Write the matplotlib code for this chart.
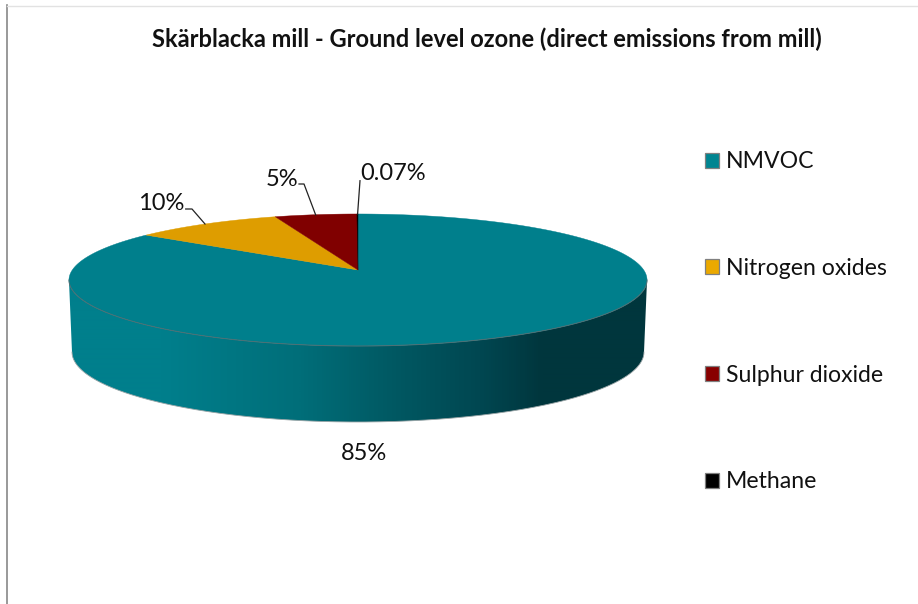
import numpy as np
import matplotlib
matplotlib.use("Agg")
import matplotlib.pyplot as plt
from matplotlib.colors import LinearSegmentedColormap
from matplotlib.patches import Polygon, Rectangle

title = "Skärblacka mill - Ground level ozone (direct emissions from mill)"
categories = ["NMVOC", "Nitrogen oxides", "Sulphur dioxide", "Methane"]
values = [85.03, 9.6, 5.3, 0.07]
value_labels = ["85%", "10%", "5%", "0.07%"]
colors = ["#007F8C", "#DE9D00", "#800000", "#000000"]
legend_colors = ["#008591", "#EBA900", "#880000", "#000000"]

W, H = 918, 604
plt.rcParams["font.family"] = ["Lato", "DejaVu Sans"]
fig = plt.figure(figsize=(W / 100, H / 100), dpi=100, facecolor="white")
ax = fig.add_axes([0, 0, 1, 1])
ax.set_xlim(0, W)
ax.set_ylim(H, 0)
ax.axis("off")

CX, CY, P, A, B = 358.0, 270.0, 0.1515, 285.7, 64.5


def project(theta):
    """Perspective projection of the unit-circle angle (clockwise from 12 o'clock)."""
    u, v = np.sin(theta), np.cos(theta)
    d = 1 + P * v
    return CX + A * u / d, CY - B * v / d


# Side wall, drawn as a horizontal gradient clipped to the wall outline
th0 = np.arccos(-P)
t = np.linspace(th0, 2 * np.pi - th0, 300)
top_x, top_y = project(t)
phi = np.linspace(np.pi / 2, 3 * np.pi / 2, 300)
bx = 358 + 286 * np.sin(phi)
by = 352 - 70 * np.cos(phi)
wall = np.column_stack([np.r_[top_x, bx[::-1]], np.r_[top_y, by[::-1]]])
cmap = LinearSegmentedColormap.from_list(
    "wall",
    [(0.0, "#007F8C"), (0.16, "#007F8C"), (0.40, "#006E79"), (0.55, "#005A64"),
     (0.72, "#004650"), (0.82, "#00363D"), (1.0, "#00363D")],
)
img = ax.imshow(np.linspace(0, 1, 578)[None, :], extent=(69, 647, 425, 270),
                cmap=cmap, aspect="auto", zorder=1, interpolation="bilinear")
clip = Polygon(wall, closed=True, transform=ax.transData, fc="none", ec="none")
ax.add_patch(clip)
img.set_clip_path(clip)
ax.plot(bx, by, color="#9AA5A7", lw=0.6, zorder=1.5)
ax.set_xlim(0, W)
ax.set_ylim(H, 0)

# Pie top, clockwise from 12 o'clock, NMVOC first
fractions = np.array(values) / np.sum(values)
edges = np.r_[0, np.cumsum(fractions)] * 2 * np.pi
for i, c in enumerate(colors):
    th = np.linspace(edges[i], edges[i + 1], max(3, int(720 * fractions[i])))
    x, y = project(th)
    ax.fill(np.r_[CX, x], np.r_[CY, y], fc=c, ec=c, lw=0.3, zorder=2)
x, y = project(t)
ax.plot(x, y, color="#4F6F73", lw=0.7, zorder=3)

# Value labels and leader lines
label_pos = [(364, 453), (161, 203), (282, 179), (393, 174)]
leaders = [None,
           [(185.7, 209), (192, 209), (205, 224)],
           [(299, 184), (304, 184), (315.7, 215)],
           [(360, 180.7), (357.6, 214)]]
for s, pos, ld in zip(value_labels, label_pos, leaders):
    ax.text(*pos, s, fontsize=17, color="#111111", ha="center", va="center", zorder=5)
    if ld:
        ax.plot(*zip(*ld), color="#222222", lw=0.9, zorder=4)

# Title
ax.text(487, 39.5, title, fontsize=17.03, fontweight="bold", color="#111111",
        ha="center", va="center")

# Legend
legend_y = [160, 266.7, 373, 480]
for name, c, y in zip(categories, legend_colors, legend_y):
    ax.add_patch(Rectangle((704.5, y - 7.5), 14.5, 15, fc=c, ec="#808080", lw=0.9, zorder=4))
    ax.text(726, y + 2, name, fontsize=16.6, color="#111111", ha="left", va="center")

# Chart-area edges
ax.plot([6.5, 6.5], [5, H], color="#888888", lw=1.2)
ax.plot([7, W], [5.5, 5.5], color="#E2E2E2", lw=1.0)

fig.savefig("out.png", dpi=100, facecolor="white")
